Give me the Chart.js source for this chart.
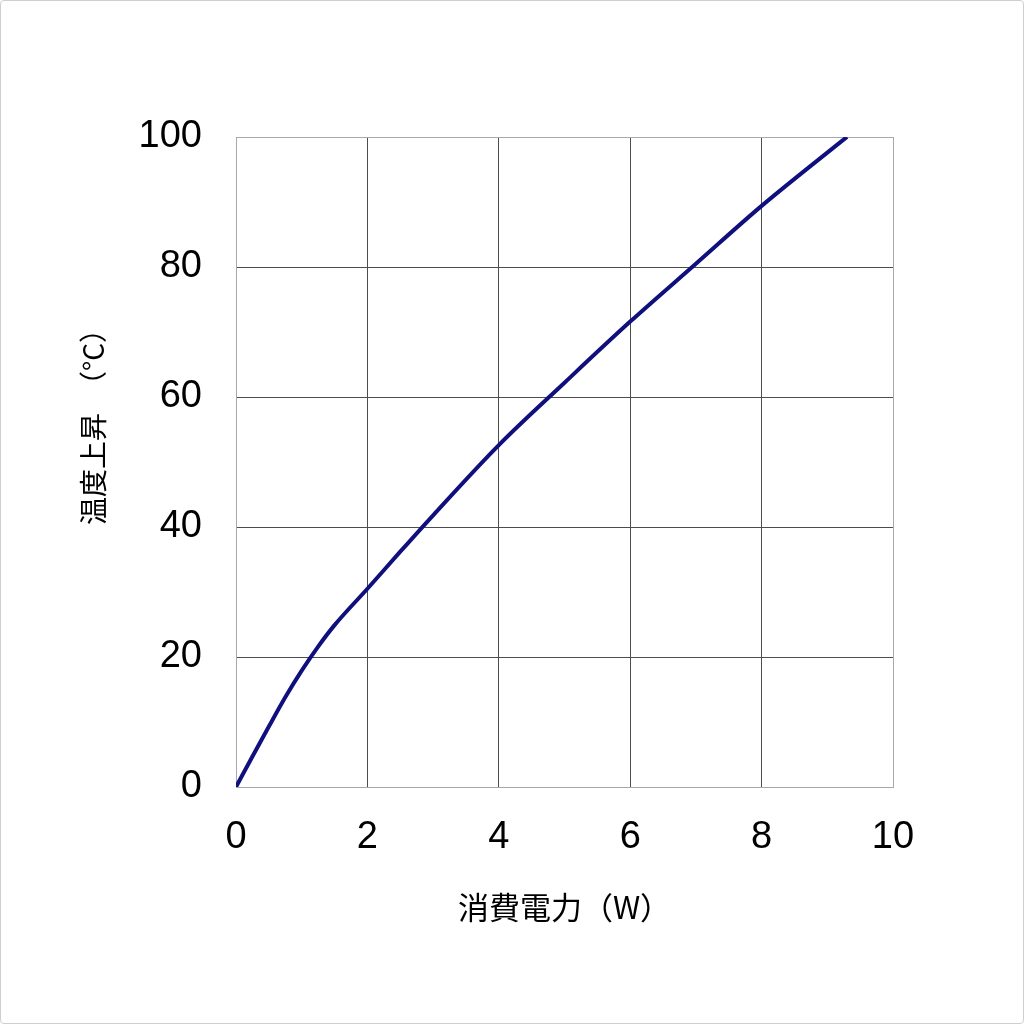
<!DOCTYPE html>
<html>
<head>
<meta charset="utf-8">
<script src="https://cdn.jsdelivr.net/npm/chart.js@4"></script>
<style>
  html, body { margin: 0; padding: 0; background: #fff; }
  #wrap { width: 1024px; height: 1024px; box-sizing: border-box; border: 1px solid #cfcfcf; border-radius: 4px; }
  canvas { display: block; }
</style>
</head>
<body>
<div id="wrap"><canvas id="chart" width="1022" height="1022"></canvas></div>
<script>
// 消費電力 (W) vs 温度上昇 (°C)
const powerW = [0, 0.25, 0.5, 0.75, 1, 1.25, 1.5, 2, 2.5, 3, 4, 5, 6, 7, 8, 9, 9.3];
const tempRise = [0, 4.7, 9.3, 13.8, 17.9, 21.6, 24.9, 30.5, 36.2, 41.8, 52.6, 62.2, 71.6, 80.5, 89.4, 97.6, 100];
const xTicks = [0, 2, 4, 6, 8, 10];
const yTicks = [0, 20, 40, 60, 80, 100];

const FONT = "'Liberation Sans', Arial, sans-serif";
const CJK = "'Noto Sans CJK JP', 'Liberation Sans', sans-serif";
const GRID = '#4d4d4d';
const EDGE = '#a8a8a8';

const points = powerW.map((x, i) => ({ x: x, y: tempRise[i] }));

new Chart(document.getElementById('chart').getContext('2d'), {
  type: 'line',
  data: {
    datasets: [{
      data: points,
      borderColor: '#0f0f7d',
      borderWidth: 4,
      pointRadius: 0,
      cubicInterpolationMode: 'monotone',
      fill: false
    }]
  },
  options: {
    responsive: false,
    animation: false,
    layout: { padding: { top: 136, right: 130, left: 0, bottom: 0 } },
    plugins: { legend: { display: false }, tooltip: { enabled: false } },
    scales: {
      x: {
        type: 'linear',
        min: 0, max: 10,
        afterBuildTicks: s => { s.ticks = xTicks.map(v => ({ value: v })); },
        afterFit: s => { s.height = 236; },
        grid: {
          drawTicks: false,
          lineWidth: 1,
          color: c => (c.tick && (c.tick.value === 0 || c.tick.value === 10)) ? EDGE : GRID
        },
        border: { color: EDGE, width: 1 },
        ticks: { color: '#000', padding: 28, font: { family: FONT, size: 38 } },
        title: {
          display: true,
          text: '消費電力（W）',
          color: '#000',
          font: { family: CJK, size: 31 },
          padding: { top: 0, bottom: 97 }
        }
      },
      y: {
        type: 'linear',
        min: 0, max: 100,
        afterBuildTicks: s => { s.ticks = yTicks.map(v => ({ value: v })); },
        afterFit: s => { s.width = 235; },
        grid: {
          drawTicks: false,
          lineWidth: 1,
          color: c => (c.tick && (c.tick.value === 0 || c.tick.value === 100)) ? EDGE : GRID
        },
        border: { color: EDGE, width: 1 },
        ticks: { color: '#000', padding: 34, font: { family: FONT, size: 38 } },
        title: {
          display: true,
          text: '　　\u2002\u2002温度上昇\u2002（°C）',
          color: '#000',
          font: { family: CJK, size: 28 },
          padding: { top: 76, bottom: 0 }
        }
      }
    }
  }
});
</script>
</body>
</html>
